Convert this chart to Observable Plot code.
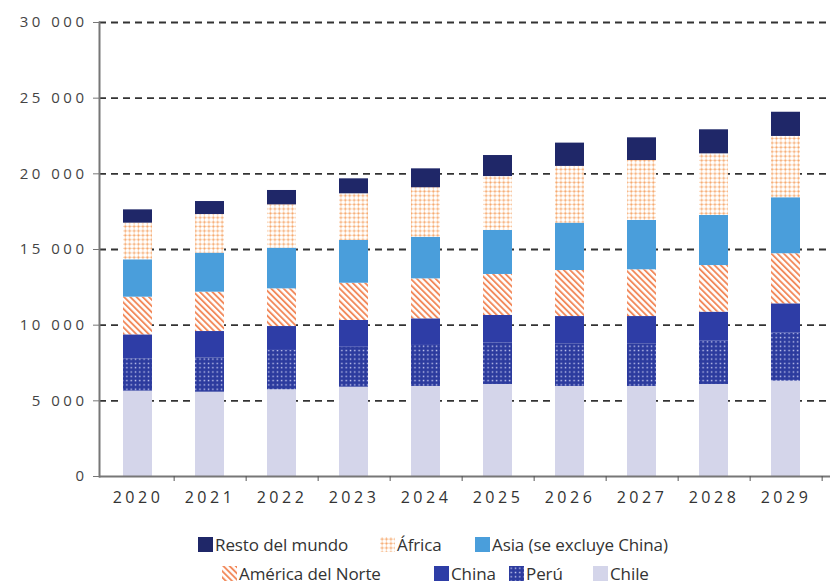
<!DOCTYPE html>
<html>
<head>
<meta charset="utf-8">
<script src="https://cdn.jsdelivr.net/npm/d3@7"></script>
<script src="https://cdn.jsdelivr.net/npm/@observablehq/plot@0.6"></script>
<style>
  body { margin: 0; background: #fff; font-family: "Open Sans", sans-serif; }
  #wrap { width: 830px; height: 586px; position: relative; overflow: hidden; }
  #chart svg { display: block; }
  #chart g[aria-label="y-axis tick label"] text,
  #chart g[aria-label="x-axis tick label"] text { letter-spacing: 3.5px; }
  #legend { position: absolute; left: 0; top: 520px; width: 830px; height: 66px; }
  .item { position: absolute; display: flex; align-items: center; font-size: 17px; color: #333; white-space: nowrap; letter-spacing: -0.1px; }
  .item svg { margin-right: 2px; }
</style>
</head>
<body>
<svg width="0" height="0" style="position:absolute">
  <defs>
    <pattern id="pAfrica" width="4.4" height="4.4" patternUnits="userSpaceOnUse">
      <rect width="4.4" height="4.4" fill="#fff"/>
      <rect x="0" y="1.6" width="4.4" height="1" fill="#fcd9bc"/>
      <rect x="1.6" y="0" width="1" height="4.4" fill="#fcd9bc"/>
      <rect x="1.3" y="1.3" width="1.7" height="1.7" fill="#f5a264"/>
    </pattern>
    <pattern id="pNorte" width="4.4" height="4.4" patternUnits="userSpaceOnUse" patternTransform="rotate(-45)">
      <rect width="4.4" height="4.4" fill="#fff"/>
      <rect x="0" y="0" width="1.9" height="4.4" fill="#f28a5c"/>
    </pattern>
    <pattern id="pPeru" width="4.3" height="4.3" patternUnits="userSpaceOnUse">
      <rect width="4.3" height="4.3" fill="#2c3b9e"/>
      <rect x="1.5" y="1.5" width="1.4" height="1.4" fill="#c9cdf2"/>
    </pattern>
  </defs>
</svg>
<div id="wrap">
  <div id="chart"></div>
  <div id="legend"></div>
</div>
<script>
// Categories (years)
const years = ["2020","2021","2022","2023","2024","2025","2026","2027","2028","2029"];

// Series values (stack order bottom -> top)
const chile   = [5640, 5570, 5730, 5900, 5950, 6080, 5950, 5950, 6080, 6300];
const peru    = [2140, 2270, 2600, 2640, 2710, 2730, 2820, 2820, 2860, 3170];
const china   = [1580, 1740, 1580, 1770, 1760, 1830, 1800, 1800, 1920, 1940];
const norte   = [2490, 2600, 2490, 2460, 2640, 2710, 3040, 3090, 3080, 3310];
const asia    = [2470, 2580, 2690, 2830, 2750, 2910, 3130, 3260, 3310, 3700];
const africa  = [2420, 2550, 2860, 3080, 3270, 3560, 3750, 3960, 4070, 4050];
const resto   = [ 880,  860,  950,  990, 1250, 1390, 1540, 1500, 1590, 1600];

const seriesNames = ["Chile", "Perú", "China", "América del Norte", "Asia (se excluye China)", "África", "Resto del mundo"];
const seriesValues = [chile, peru, china, norte, asia, africa, resto];
const seriesFills = ["#d4d5ea", "url(#pPeru)", "#2e3da6", "url(#pNorte)", "#4a9edb", "url(#pAfrica)", "#1f2768"];

// Tick values and labels
const yTicks = [0, 5000, 10000, 15000, 20000, 25000, 30000];
const yTickLabels = ["0", "5 000", "10 000", "15 000", "20 000", "25 000", "30 000"];

// Legend layout order
const legendRow1 = ["Resto del mundo", "África", "Asia (se excluye China)"];
const legendRow2 = ["América del Norte", "China", "Perú", "Chile"];

const data = [];
years.forEach((yr, i) => {
  seriesNames.forEach((s, j) => data.push({ year: yr, series: s, value: seriesValues[j][i] }));
});

const xRange = [100, 823];
const step = (xRange[1] - xRange[0]) / years.length;

const chart = Plot.plot({
  width: 830,
  height: 520,
  marginLeft: 99,
  marginRight: 0,
  marginTop: 22,
  marginBottom: 44,
  style: { fontFamily: "'Open Sans', sans-serif", color: "#444", background: "transparent" },
  x: { type: "band", domain: years, range: xRange, paddingInner: 0.6, paddingOuter: 0.3, label: null },
  y: { domain: [0, 30000], label: null },
  color: { type: "ordinal", domain: seriesNames, range: seriesFills },
  marks: [
    Plot.ruleY(yTicks.slice(1), { stroke: "#333", strokeWidth: 1.8, strokeDasharray: "7,5" }),
    Plot.barY(data, Plot.stackY({ x: "year", y: "value", fill: "series", order: seriesNames })),
    Plot.ruleY([0], { stroke: "#777", strokeWidth: 2 }),
    Plot.frame({ anchor: "left", stroke: "#777", strokeWidth: 2 }),
    Plot.axisY({
      ticks: yTicks,
      tickFormat: d => yTickLabels[yTicks.indexOf(d)],
      tickSize: 6, tickPadding: 6, fontSize: 15, stroke: "#777", fill: "#444", label: null
    }),
    Plot.axisX({ tickSize: 0, tickPadding: 15, fontSize: 16, fill: "#333", label: null }),
    Plot.axisX({ tickSize: 5, tickFormat: () => "", dx: step / 2, stroke: "#555", label: null })
  ]
});
document.getElementById("chart").appendChild(chart);

// Legend
const legendPos = {
  "Resto del mundo": [198, 546],
  "África": [380, 546],
  "Asia (se excluye China)": [475, 546],
  "América del Norte": [222, 575],
  "China": [434, 575],
  "Perú": [509, 575],
  "Chile": [593, 575]
};
const legend = document.getElementById("legend");
[...legendRow1, ...legendRow2].forEach(name => {
  const fill = seriesFills[seriesNames.indexOf(name)];
  const [lx, ly] = legendPos[name];
  const div = document.createElement("div");
  div.className = "item";
  div.style.left = lx + "px";
  div.style.top = (ly - 520 - 13) + "px";
  div.innerHTML = `<svg width="15" height="15"><rect width="15" height="15" fill="${fill}"/></svg><span>${name}</span>`;
  legend.appendChild(div);
});
</script>
</body>
</html>
